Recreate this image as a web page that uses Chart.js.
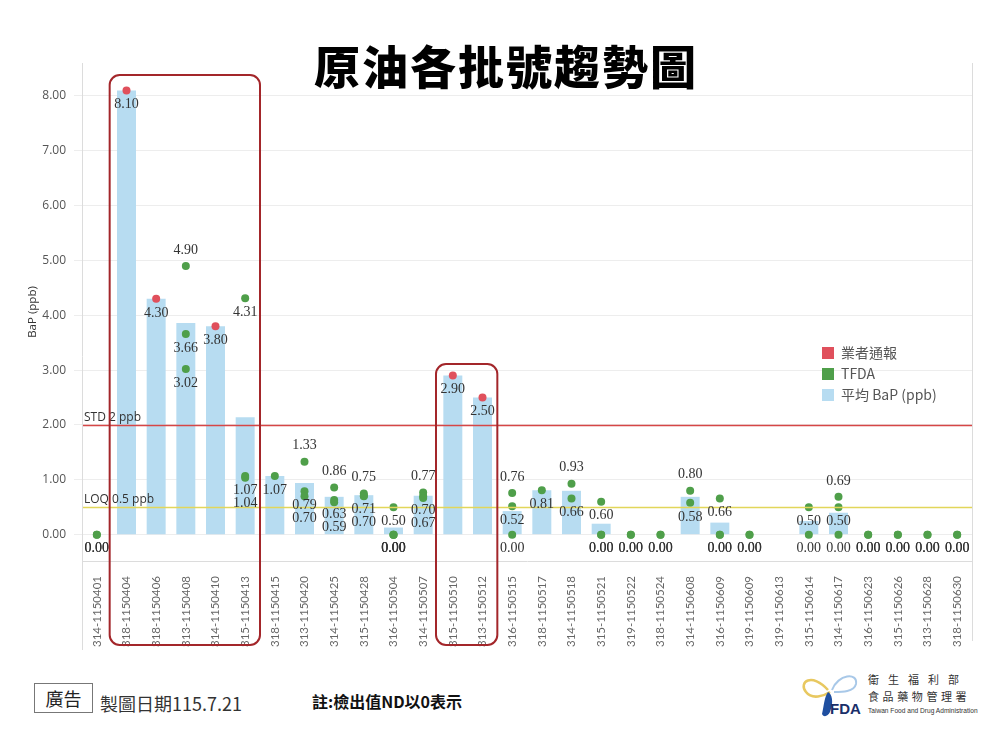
<!DOCTYPE html>
<html>
<head>
<meta charset="utf-8">
<script src="https://cdn.jsdelivr.net/npm/chart.js@4.4.1/dist/chart.umd.min.js"></script>
<style>
body{margin:0;background:#fff;width:1000px;height:750px;position:relative;overflow:hidden;font-family:"Noto Sans CJK TC","Noto Sans",sans-serif;}
#wrap{position:absolute;left:0;top:0;width:1000px;height:660px;}
#title{position:absolute;left:0;top:34px;width:1012px;text-align:center;font-size:46px;font-weight:900;color:#000;letter-spacing:2px;line-height:60px;}
#legend{position:absolute;left:822px;top:342px;font-size:14px;color:#555;}
#legend div{height:21px;line-height:21px;white-space:nowrap;}
#legend span{display:inline-block;width:12px;height:12px;margin-right:7px;vertical-align:-1px;}
#ad{position:absolute;left:34px;top:683px;width:57px;height:28px;border:1px solid #777;font-size:18px;line-height:28px;text-align:center;color:#222;}
#date{position:absolute;left:100px;top:689px;font-size:18px;color:#333;line-height:28px;}
#note{position:absolute;left:312px;top:687px;font-size:16px;font-weight:bold;color:#111;line-height:28px;}
#logo{position:absolute;left:798px;top:668px;}
</style>
</head>
<body>
<div id="wrap"><canvas id="batchChart"></canvas></div>
<div id="title">原油各批號趨勢圖</div>
<div id="legend"></div>
<div id="ad">廣告</div>
<div id="date">製圖日期115.7.21</div>
<div id="note">註:檢出值ND以0表示</div>
<svg id="logo" width="180" height="54" viewBox="0 0 180 54">
  <path d="M30 22 C14 4, 0 14, 8 24 C14 32, 26 28, 32 24" fill="none" stroke="#e8c860" stroke-width="2.5"/>
  <path d="M34 22 C40 6, 60 4, 58 16 C56 24, 44 24, 36 24" fill="none" stroke="#a8c8e8" stroke-width="2"/>
  <path d="M30 24 C34 26, 36 34, 32 44 C30 48, 26 50, 24 46 C26 38, 26 30, 30 24 Z" fill="#1f4fa0"/>
  <text x="32" y="46" font-family="Liberation Sans" font-weight="bold" font-size="15" fill="#1a2f6a">FDA</text>
  <text x="70" y="16" font-size="11" fill="#333" letter-spacing="9">衛生福利部</text>
  <text x="70" y="33" font-size="11" fill="#333" letter-spacing="3.6">食品藥物管理署</text>
  <text x="70" y="45" font-family="Liberation Sans" font-size="6.6" fill="#333">Taiwan Food and Drug Administration</text>
</svg>
<script>
// 批號 (x軸)
const batches = [
  '314-1150401','318-1150404','318-1150406','313-1150408','314-1150410','315-1150413',
  '318-1150415','313-1150420','314-1150425','315-1150428','316-1150504','314-1150507',
  '315-1150510','313-1150512','316-1150515','318-1150517','314-1150518','315-1150521',
  '319-1150522','318-1150524','314-1150608','316-1150609','319-1150609','319-1150613',
  '315-1150614','314-1150617','316-1150623','315-1150626','313-1150628','318-1150630'
];
// 平均 BaP (ppb)
const avgBaP = [0, 8.10, 4.30, 3.86, 3.80, 2.14, 1.07, 0.94, 0.69, 0.72, 0.13, 0.71,
  2.90, 2.50, 0.43, 0.81, 0.80, 0.20, 0, 0, 0.69, 0.22, 0, null, 0.25, 0.40, 0, 0, 0, 0];
// 業者通報
const vendorBaP = [null, 8.10, 4.30, null, 3.80, null, null, null, null, null, null, null,
  2.90, 2.50, null, null, null, null, null, null, null, null, null, null, null, null, null, null, null, null];
// TFDA 檢驗 (每批可有多筆)
const tfdaBaP = [
  [0, 0], [], [], [4.90, 3.66, 3.02], [], [4.31, 1.07, 1.04],
  [1.07], [1.33, 0.79, 0.70], [0.86, 0.63, 0.59], [0.75, 0.71, 0.70], [0.50, 0, 0, 0], [0.77, 0.70, 0.67],
  [], [], [0.76, 0.52, 0], [0.81], [0.93, 0.66], [0.60, 0, 0],
  [0, 0], [0, 0], [0.80, 0.58], [0.66, 0, 0], [0, 0], [],
  [0.50, 0], [0.69, 0.50, 0], [0, 0], [0, 0], [0, 0], [0, 0]
];
const yTicks = [0, 1, 2, 3, 4, 5, 6, 7, 8];
const STD = 2;   // 標準 2 ppb
const LOQ = 0.5; // 定量極限 0.5 ppb
// 框起來的批號 (紅框)
const highlights = [
  {from: '318-1150404', to: '315-1150413', top: 8.38},
  {from: '315-1150510', to: '313-1150512', top: 3.11}
];

const COLORS = {red: '#e0505c', green: '#4f9f4a', blue: '#b7dcf1'};

const tfdaPoints = tfdaBaP.flatMap((vals, i) => vals.map(v => ({x: batches[i], y: v})));

// STD / LOQ 線
const refLines = {
  id: 'refLines',
  afterDatasetsDraw(chart) {
    const ctx = chart.ctx;
    const area = chart.chartArea;
    const yScale = chart.scales.y;
    const lines = [
      {value: STD, color: 'rgb(214, 70, 70)', text: 'STD 2 ppb'},
      {value: LOQ, color: 'rgb(226, 214, 90)', text: 'LOQ 0.5 ppb'}
    ];
    lines.forEach(l => {
      const py = Math.round(yScale.getPixelForValue(l.value)) + 0.5;
      ctx.save();
      ctx.strokeStyle = l.color;
      ctx.lineWidth = 1.5;
      ctx.beginPath();
      ctx.moveTo(area.left, py);
      ctx.lineTo(area.right, py);
      ctx.stroke();
      ctx.restore();
      ctx.save();
      ctx.fillStyle = '#333';
      ctx.font = '12px "Open Sans"';
      ctx.textAlign = 'left';
      ctx.textBaseline = 'bottom';
      ctx.fillText(l.text, area.left + 2, py - 2);
      ctx.restore();
    });
  }
};

// 點的數值標籤
const pointLabels = {
  id: 'pointLabels',
  afterDatasetsDraw(chart) {
    const ctx = chart.ctx;
    const groups = {};
    [1, 2].forEach(di => {
      const meta = chart.getDatasetMeta(di);
      meta.data.forEach((el, i) => {
        const p = meta.controller.getParsed(i);
        if (p.y == null || isNaN(p.y)) return;
        (groups[p.x] = groups[p.x] || []).push({v: p.y, x: el.x, y: el.y});
      });
    });
    ctx.save();
    ctx.font = '14px "Liberation Serif"';
    ctx.fillStyle = '#333';
    ctx.textAlign = 'center';
    ctx.textBaseline = 'middle';
    Object.values(groups).forEach(pts => {
      const distinct = [...new Set(pts.map(p => p.v))].sort((a, b) => b - a);
      const nonZero = distinct.filter(v => v > 0);
      // 最高一筆與次高接近時標在上方
      const topAbove = nonZero.length >= 2 && nonZero[0] - nonZero[1] < 1.5;
      const pos = {};
      let prev = -Infinity;
      distinct.forEach((v, k) => {
        const pt = pts.find(p => p.v === v);
        if (k === 0 && topAbove) {
          pos[v] = pt.y - 16;
        } else {
          pos[v] = Math.max(pt.y + 14, prev + 13);
          prev = pos[v];
        }
      });
      pts.forEach(p => ctx.fillText(p.v.toFixed(2), p.x, pos[p.v]));
    });
    ctx.restore();
  }
};

// 紅框與外框線
const frames = {
  id: 'frames',
  afterDraw(chart) {
    const {ctx, chartArea: a, scales: {x, y}} = chart;
    const step = x.getPixelForValue(1) - x.getPixelForValue(0);
    ctx.save();
    ctx.strokeStyle = '#dcdcdc';
    ctx.lineWidth = 1;
    ctx.beginPath();
    ctx.moveTo(a.left + 0.5, a.top); ctx.lineTo(a.left + 0.5, a.bottom + 89);
    ctx.moveTo(a.right + 0.5, a.top); ctx.lineTo(a.right + 0.5, a.bottom + 80);
    ctx.stroke();
    ctx.strokeStyle = '#a3262a';
    ctx.lineWidth = 2;
    highlights.forEach(h => {
      const l = x.getPixelForValue(batches.indexOf(h.from)) - step / 2 - 2;
      const r = x.getPixelForValue(batches.indexOf(h.to)) + step / 2;
      const t = y.getPixelForValue(h.top);
      const b = a.bottom + 84;
      ctx.beginPath();
      ctx.roundRect(l, t, r - l, b - t, 10);
      ctx.stroke();
    });
    ctx.restore();
  }
};

const batchChart = new Chart(document.getElementById('batchChart'), {
  type: 'bar',
  data: {
    labels: batches,
    datasets: [{
      label: '平均 BaP (ppb)',
      data: avgBaP,
      backgroundColor: COLORS.blue,
      categoryPercentage: 0.8,
      barPercentage: 0.8,
      order: 3
    }, {
      type: 'line',
      label: '業者通報',
      data: vendorBaP,
      showLine: false,
      pointRadius: 4,
      pointHoverRadius: 4,
      pointBorderWidth: 0,
      backgroundColor: COLORS.red,
      borderColor: COLORS.red,
      order: 1
    }, {
      type: 'line',
      label: 'TFDA',
      data: tfdaPoints,
      showLine: false,
      pointRadius: 4,
      pointHoverRadius: 4,
      pointBorderWidth: 0,
      backgroundColor: COLORS.green,
      borderColor: COLORS.green,
      order: 2
    }]
  },
  options: {
    responsive: true,
    maintainAspectRatio: false,
    animation: false,
    layout: {padding: {left: 20, right: 28, top: 63, bottom: 0}},
    plugins: {legend: {display: false}, tooltip: {enabled: false}},
    scales: {
      x: {
        grid: {display: false},
        border: {color: '#dcdcdc'},
        ticks: {
          autoSkip: false, minRotation: 90, maxRotation: 90, padding: 7,
          color: '#666', font: {family: 'Lato', size: 11.5}
        },
        afterFit(s) { s.height = 99; }
      },
      y: {
        min: -0.48,
        max: 8.6,
        afterBuildTicks(s) { s.ticks = yTicks.map(v => ({value: v})); },
        grid: {color: '#ededed'},
        border: {display: false},
        ticks: {
          color: '#555', padding: 8, font: {family: '"Open Sans"', size: 12},
          callback: v => Number(v).toFixed(2)
        },
        title: {display: true, text: 'BaP (ppb)', color: '#333', font: {family: '"Open Sans"', size: 11.5}, padding: 6},
        afterFit(s) { s.width = 62; }
      }
    }
  },
  plugins: [refLines, pointLabels, frames]
});

// 圖例
const legendOrder = [1, 2, 0];
document.getElementById('legend').innerHTML = legendOrder.map(i => {
  const ds = batchChart.data.datasets[i];
  return `<div><span style="background:${ds.backgroundColor}"></span>${ds.label}</div>`;
}).join('');
</script>
</body>
</html>
